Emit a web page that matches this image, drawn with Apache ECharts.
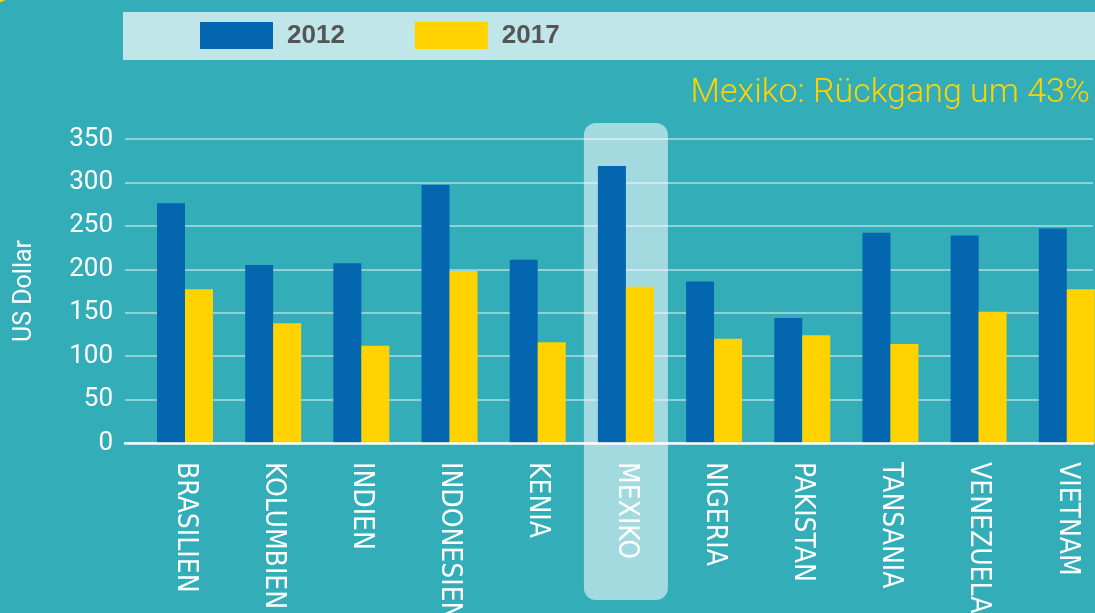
<!DOCTYPE html>
<html><head><meta charset="utf-8">
<script src="https://cdn.jsdelivr.net/npm/echarts@6/dist/echarts.min.js"></script>
<style>html,body{margin:0;padding:0;background:#33AEB8;}#c{width:1095px;height:613px;}</style>
</head><body><div id="c"></div>
<script>
const categories = ['BRASILIEN','KOLUMBIEN','INDIEN','INDONESIEN','KENIA','MEXIKO','NIGERIA','PAKISTAN','TANSANIA','VENEZUELA','VIETNAM'];
const values2012 = [276, 205, 207, 297, 211, 319, 186, 144, 242, 239, 247];
const values2017 = [177, 138, 112, 198, 116, 180, 120, 124, 114, 151, 177];
const seriesNames = ['2012', '2017'];
const yTicks = [0, 50, 100, 150, 200, 250, 300, 350];
const highlightCategory = 'MEXIKO';
const titleText = 'Mexiko: Rückgang um 43%';
const yAxisName = 'US Dollar';

const chart = echarts.init(document.getElementById('c'), null, {renderer: 'canvas'});
const yMin = yTicks[0], yMax = yTicks[yTicks.length - 1], yInt = yTicks[1] - yTicks[0];
const option = {
  backgroundColor: '#33AEB8',
  animation: false,
  title: {
    text: titleText, right: 0, top: 71,
    textStyle: {color: '#FFD200', fontSize: 34, fontWeight: 300, fontFamily: 'Roboto'}
  },
  legend: {
    data: seriesNames, left: 195, top: 17, itemWidth: 73, itemHeight: 27, itemGap: 70,
    icon: 'rect',
    textStyle: {color: '#555555', fontSize: 26, fontWeight: 'bold', fontFamily: 'Liberation Sans', padding: [0,0,0,9]}
  },
  grid: [
    {left: 125, right: 2, top: 139, height: 304, outerBoundsMode: 'none', containLabel: false},
    {left: 140.9, width: 970, top: 139, height: 304, outerBoundsMode: 'none', containLabel: false}
  ],
  xAxis: [
    {gridIndex: 0, type: 'category', data: [''], axisLabel: {show: false}, axisTick: {show: false},
     axisLine: {lineStyle: {color: '#ffffff', width: 2.5}}, z: 5},
    {gridIndex: 1, type: 'category', data: categories, axisTick: {show: false}, axisLine: {show: false},
     axisLabel: {rotate: -90, margin: 19, color: '#ffffff', fontSize: 28, fontFamily: "'DejaVu Sans Condensed', 'Liberation Sans Narrow', sans-serif", interval: 0}}
  ],
  yAxis: [
    {gridIndex: 0, type: 'value', min: yMin, max: yMax, interval: yInt,
     name: yAxisName, nameLocation: 'middle', nameRotate: 90, nameGap: 88,
     nameTextStyle: {color: '#ffffff', fontSize: 25, fontFamily: 'Roboto'},
     axisLabel: {color: '#ffffff', fontSize: 26, fontFamily: 'Roboto', margin: 12},
     axisLine: {show: false}, axisTick: {show: false},
     splitLine: {lineStyle: {color: 'rgba(255,255,255,0.6)', width: 1.5}}},
    {gridIndex: 1, type: 'value', min: yMin, max: yMax, interval: yInt, show: false, splitLine: {show: false}}
  ],
  series: [
    {name: seriesNames[0], type: 'bar', xAxisIndex: 1, yAxisIndex: 1, data: values2012, barWidth: 28, barGap: '0%', itemStyle: {color: '#0366AE'}},
    {name: seriesNames[1], type: 'bar', xAxisIndex: 1, yAxisIndex: 1, data: values2017, barWidth: 28, barGap: '0%', itemStyle: {color: '#FFD200'}}
  ]
};
chart.setOption(option);
const cx = chart.convertToPixel({xAxisIndex: 1}, highlightCategory);
chart.setOption({
  graphic: [
    {type: 'circle', shape: {cx: -15, cy: -40, r: 45}, style: {fill: '#FFD200'}, z: 10},
    {type: 'rect', shape: {x: 123, y: 12, width: 980, height: 48}, style: {fill: '#C0E6E9'}, z: -1},
    {type: 'rect', shape: {x: cx - 42, y: 123, width: 84, height: 477, r: 12}, style: {fill: 'rgba(255,255,255,0.55)'}, z: -1}
  ]
});
</script></body></html>
